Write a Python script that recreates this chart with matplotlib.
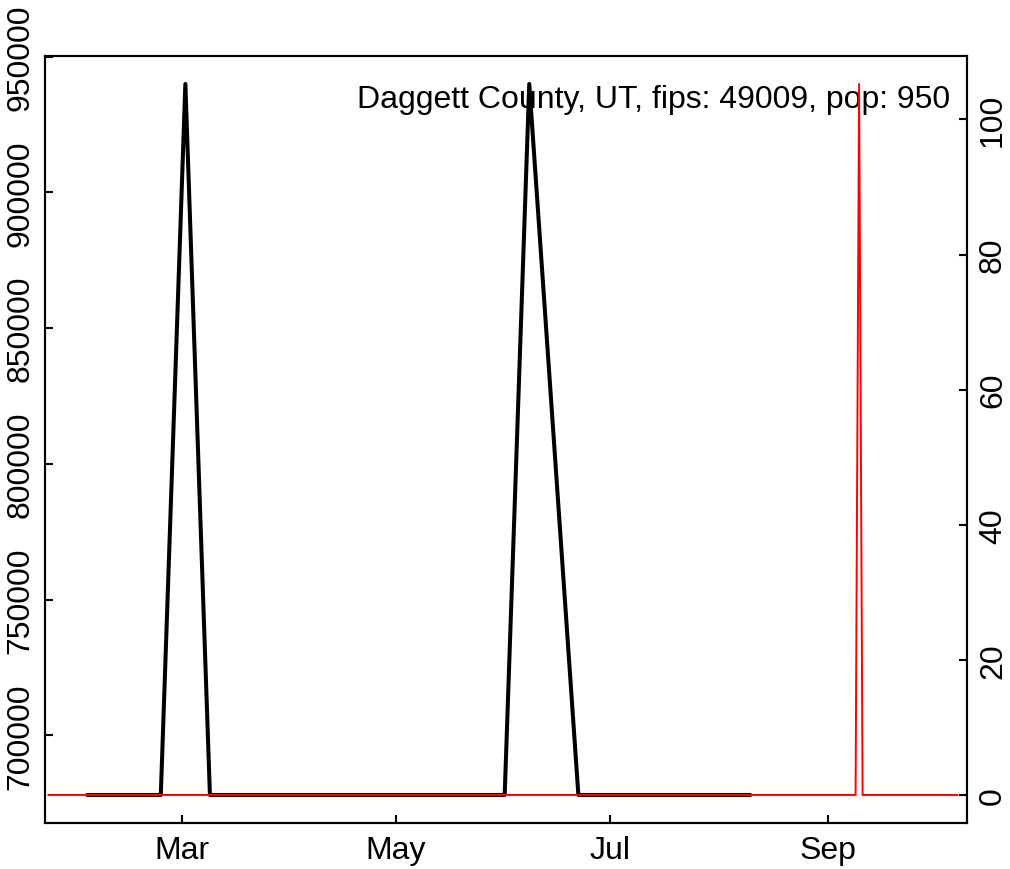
import matplotlib
matplotlib.use("Agg")
import matplotlib.pyplot as plt
import numpy as np
import pandas as pd

plt.rcParams["font.family"] = ["Liberation Sans", "DejaVu Sans"]

# ── Data (2020) ──────────────────────────────────────────────────────────────
# black series: weekly (Mondays), left axis
wk_dates = pd.date_range("2020-02-03", "2020-08-10", freq="7D")
wk_low, wk_high, wk_mid = 678000, 940000, 809000
wk_values = [wk_low] * len(wk_dates)
wk_values[4] = wk_high          # 2020-03-02
wk_values[18] = wk_high         # 2020-06-08
wk_values[19] = wk_mid          # 2020-06-15

# red series: daily cases per 100k, right axis
day_dates = pd.date_range("2020-01-23", "2020-10-08", freq="D")
day_values = np.zeros(len(day_dates))
day_values[day_dates.get_loc(pd.Timestamp("2020-09-10"))] = 105.26

title = "Daggett County, UT, fips: 49009, pop: 950"
left_ticks = [700000, 750000, 800000, 850000, 900000, 950000]
right_ticks = [0, 20, 40, 60, 80, 100]
month_ticks = pd.to_datetime(["2020-03-01", "2020-05-01", "2020-07-01", "2020-09-01"])
month_labels = ["Mar", "May", "Jul", "Sep"]

FS = 23

fig = plt.figure(figsize=(10.1, 8.7), dpi=100)
fig.patch.set_facecolor("white")
ax = fig.add_axes([45 / 1010, (870 - 824.4) / 870, (967 - 45) / 1010, (824.4 - 56.5) / 870])

ax.plot(wk_dates, wk_values, color="black", lw=2.9,
        solid_capstyle="round", solid_joinstyle="round", zorder=2)
rng = max(wk_values) - min(wk_values)
ax.set_ylim(min(wk_values) - 0.04 * rng, max(wk_values) + 0.04 * rng)
ax.set_xlim(pd.Timestamp("2020-01-22"), pd.Timestamp("2020-10-10 18:00"))

ax.set_yticks(left_ticks)
ax.set_yticklabels([str(v) for v in left_ticks], rotation=90, va="center", fontsize=FS)
ax.set_xticks(month_ticks)
ax.set_xticklabels(month_labels, fontsize=FS)

ax2 = ax.twinx()
ax2.plot(day_dates, day_values, color="#ff0000", lw=1.4, zorder=3)
rng2 = day_values.max() - day_values.min()
ax2.set_ylim(day_values.min() - 0.04 * rng2, day_values.max() + 0.04 * rng2)
ax2.set_yticks(right_ticks)
ax2.set_yticklabels([str(v) for v in right_ticks], rotation=90, va="center", fontsize=FS)

for a in (ax, ax2):
    for s in a.spines.values():
        s.set_linewidth(1.5)
ax.tick_params(axis="x", direction="in", length=6, width=1.5, pad=8)
ax.tick_params(axis="y", direction="in", length=6, width=1.5, pad=7)
ax2.tick_params(direction="in", length=6, width=1.5, pad=8)

ax.text(0.982, 0.944, title, transform=ax.transAxes, ha="right", va="center",
        fontsize=FS, color="black", zorder=5)

fig.savefig("out.png", dpi=100, facecolor="white")
